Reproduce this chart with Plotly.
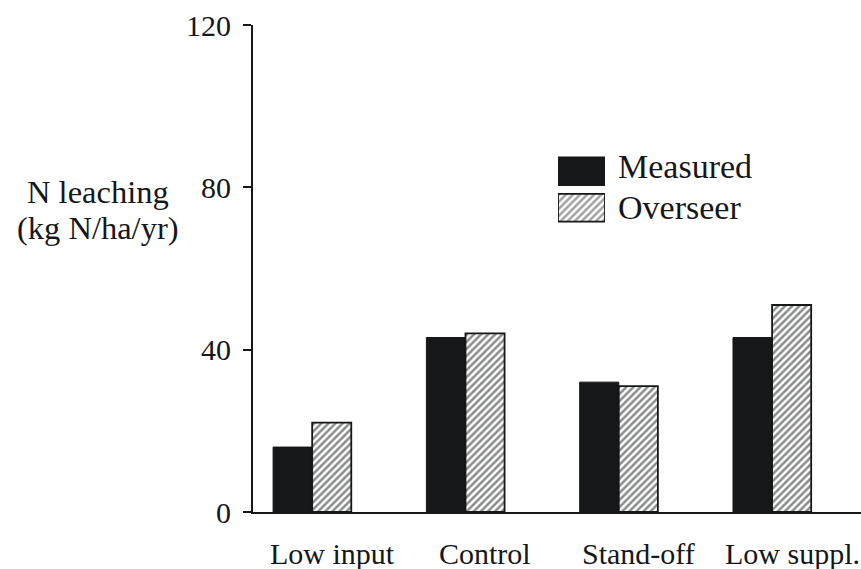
import plotly.graph_objects as go

categories = ["Low input", "Control", "Stand-off", "Low suppl."]
measured = [16, 43, 32, 43]
overseer = [22, 44, 31, 51]
y_ticks = [0, 40, 80, 120]
legend_names = ["Measured", "Overseer"]

FONT = "Liberation Serif, Times New Roman, serif"
BLACK = "#161718"
HATCH = dict(shape="/", size=5, solidity=0.5, fgcolor=BLACK, bgcolor="white")

fig = go.Figure()
fig.add_trace(go.Bar(
    x=categories, y=measured, name="Measured",
    marker=dict(color=BLACK, line=dict(color=BLACK, width=1)),
    showlegend=False,
))
fig.add_trace(go.Bar(
    x=categories, y=overseer, name="Overseer",
    marker=dict(color="white", line=dict(color=BLACK, width=1.8), pattern=HATCH),
    showlegend=False,
))

# legend swatches drawn as a tiny inset bar chart
fig.add_trace(go.Bar(
    y=legend_names, x=[1, 1], orientation="h", xaxis="x2", yaxis="y2",
    marker=dict(color=[BLACK, "white"], line=dict(color=BLACK, width=1.8),
                pattern=dict(shape=["", "/"], size=5, solidity=0.5,
                             fgcolor=BLACK, bgcolor="white")),
    width=0.76, showlegend=False, hoverinfo="skip",
))

W, H = 861, 569
L, R, T, B = 253, 0, 25, 57
pw, ph = W - L - R, H - T - B

def px_x(x):
    return (x - L) / pw

def px_y(y):
    return 1 - (y - T) / ph

fig.update_layout(
    width=W, height=H,
    margin=dict(l=L, r=R, t=T, b=B),
    paper_bgcolor="white", plot_bgcolor="white",
    barmode="group", bargap=0.49, bargroupgap=0,
    font=dict(family=FONT, color=BLACK),
    xaxis=dict(
        range=[-0.386, 3.58], showline=True, linecolor=BLACK, linewidth=2,
        ticks="", showticklabels=False, showgrid=False, zeroline=False,
        fixedrange=True,
    ),
    yaxis=dict(
        range=[0, 120], tickvals=y_ticks, showline=True, linecolor=BLACK,
        linewidth=2, ticks="outside", ticklen=8, tickwidth=2, tickcolor=BLACK,
        tickfont=dict(size=30, family=FONT, color=BLACK),
        ticklabelstandoff=6, showgrid=False, zeroline=False,
    ),
    xaxis2=dict(domain=[px_x(558), px_x(605)], anchor="y2", range=[0, 1],
                visible=False, fixedrange=True),
    yaxis2=dict(domain=[px_y(226), px_y(153)], anchor="x2",
                range=[1.5, -0.5], visible=False, fixedrange=True),
)

# category labels (placed slightly right of the bar groups, as in the original)
for cat in categories:
    fig.add_annotation(text=cat, xref="x", yref="paper", x=cat, y=px_y(553),
                       xshift=20, xanchor="center", yanchor="middle",
                       showarrow=False, font=dict(size=30, family=FONT, color=BLACK))

for name, yc in zip(legend_names, [166, 207]):
    fig.add_annotation(text=name, xref="paper", yref="paper",
                       x=px_x(616), y=px_y(yc), xanchor="left", yanchor="middle",
                       showarrow=False, font=dict(size=34, family=FONT, color=BLACK))

for line, yc in zip(["N leaching", "(kg N/ha/yr)"], [192, 228]):
    fig.add_annotation(text=line, xref="paper", yref="paper",
                       x=px_x(98), y=px_y(yc), xanchor="center", yanchor="middle",
                       showarrow=False,
                       font=dict(size=32.5, family=FONT, color=BLACK))

fig.write_html("out.html", config={"displayModeBar": False},
               post_script="document.body.style.margin='0px';")
